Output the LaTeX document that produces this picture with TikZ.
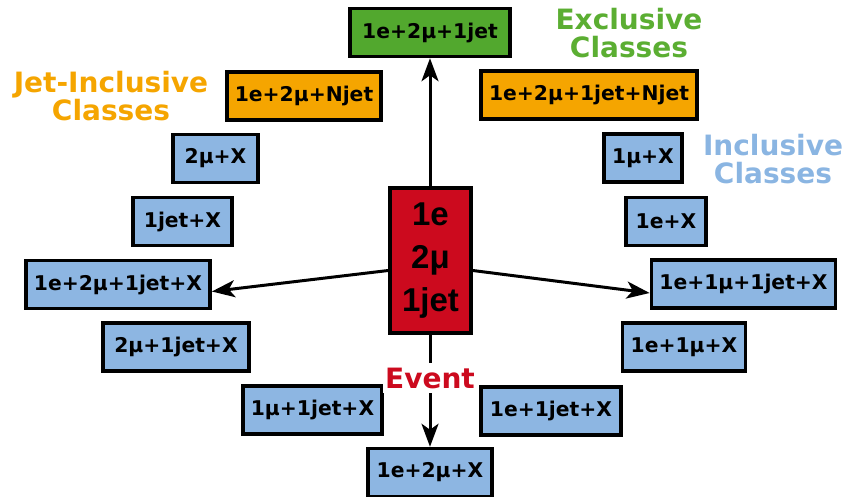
\documentclass[tikz,border=0pt]{standalone}
\usepackage{fontspec}
\setmainfont{DejaVu Sans}
\newfontfamily\eventfont{Liberation Sans}
\usetikzlibrary{arrows.meta}
\definecolor{exgreen}{HTML}{52A82E}
\definecolor{exgreentxt}{HTML}{5BAE32}
\definecolor{jetorange}{HTML}{F5A500}
\definecolor{incblue}{HTML}{8DB6E2}
\definecolor{incbluetxt}{HTML}{8AB5E2}
\definecolor{evred}{HTML}{CC0A1E}
\tikzset{
  cls/.style={draw=black, line width=3.5pt, minimum height=48pt, inner xsep=8pt,
    font=\bfseries\fontsize{20.3}{24}\selectfont},
  excl/.style={cls, fill=exgreen},
  jinc/.style={cls, fill=jetorange},
  inc/.style={cls, fill=incblue},
  title/.style={font=\bfseries\fontsize{28}{28}\selectfont, align=center},
  flow/.style={line width=3pt, -{Stealth[length=23pt,width=17pt,inset=6pt]}}
}
\begin{document}
\begin{tikzpicture}[x=1pt,y=-1pt]
\useasboundingbox (0,0) rectangle (846,497);

% exclusive and jet-inclusive classes
\node[excl, minimum width=160pt] (ex) at (430,32.5) {1e+2μ+1jet};
\node[jinc, minimum width=154pt] (jn) at (304,96) {1e+2μ+Njet};
\node[jinc, minimum width=216pt] (jnn) at (589,95) {1e+2μ+1jet+Njet};

% inclusive classes
\node[inc, minimum width=85pt] (mx) at (215.5,158.5) {2μ+X};
\node[inc, minimum width=99pt] (jx) at (182.5,221.5) {1jet+X};
\node[inc, minimum width=182pt] (emjx) at (118,284.5) {1e+2μ+1jet+X};
\node[inc, minimum width=146pt] (mjx) at (176,347) {2μ+1jet+X};
\node[inc, minimum width=139pt] (smjx) at (312.5,410) {1μ+1jet+X};
\node[inc, minimum width=124pt] (emx) at (430,472.5) {1e+2μ+X};
\node[inc, minimum width=140pt] (ejx) at (551,411) {1e+1jet+X};
\node[inc, minimum width=122pt] (esmx) at (684,347) {1e+1μ+X};
\node[inc, minimum width=181pt] (esmjx) at (743.5,284) {1e+1μ+1jet+X};
\node[inc, minimum width=80pt] (ex1) at (666,221.5) {1e+X};
\node[inc, minimum width=78pt] (smx) at (643,158) {1μ+X};

% the event itself
\node[draw=black, line width=3.5pt, fill=evred, minimum width=81pt, minimum height=145pt,
  align=center, font=\eventfont\bfseries\fontsize{33}{43}\selectfont] (ev) at (430.5,260.5)
  {1e\\2μ\\1jet};

% group titles
\node[title, text=exgreentxt] (tex) at (629,33) {Exclusive\\Classes};
\node[title, text=jetorange] (tjn) at (111,96) {Jet-Inclusive\\Classes};
\node[title, text=incbluetxt] (tinc) at (773,159.5) {Inclusive\\Classes};

% projections of the event
\draw[flow] (ev.north -| ex.south) -- (ex.south);
\draw[flow] (ev.south -| emx.north) -- (emx.north);
\draw[flow] ([yshift=-10pt]ev.west) -- ([yshift=-7pt]emjx.east);
\draw[flow] ([yshift=-10pt]ev.east) -- ([yshift=-9pt]esmjx.west);

\node[title, text=evred, fill=white, inner xsep=2pt, inner ysep=5pt] (evl) at (430,378) {Event};
\end{tikzpicture}
\end{document}
